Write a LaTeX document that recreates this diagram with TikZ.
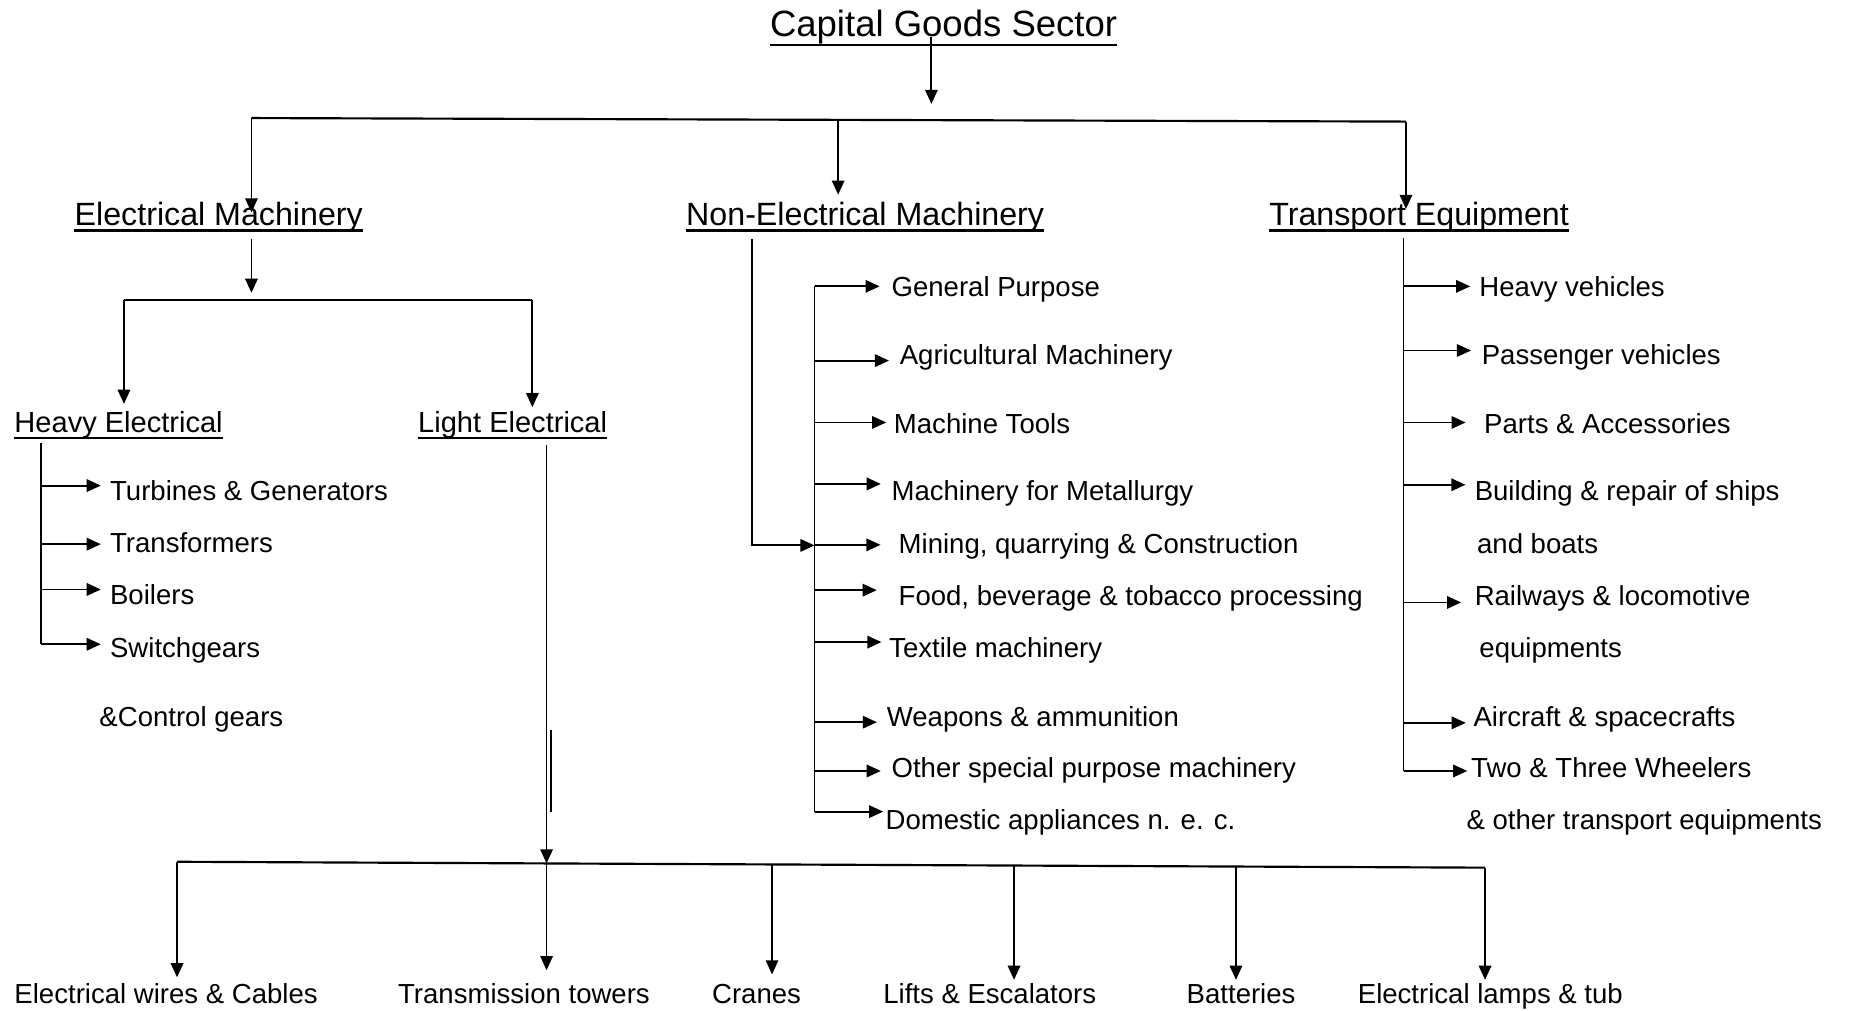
\documentclass[tikz,border=0pt]{standalone}
\usepackage{fontspec}
\setmainfont{Liberation Sans}
\usetikzlibrary{arrows.meta}
\newcommand\branch[4]{\draw[arr] ([yshift=#4]#1 |- #2.base) -- ([xshift=-#3,yshift=#4]#2.base west);}% Syntax: {spine}{item}{gap to text}{height above baseline}
\newcommand\uline[2]{\draw[bar] ([yshift=-#2]#1.base west) -- ([yshift=-#2]#1.base east);}% Syntax: {heading}{depth below baseline}

\begin{document}
\begin{tikzpicture}[x=0.025cm,y=-0.025cm,
	every node/.style={inner sep=0pt,anchor=base west},
	title/.style={font=\fontsize{22}{26}\selectfont},
	head/.style={font=\fontsize{19.4}{23}\selectfont},
	subhead/.style={font=\fontsize{17.5}{21}\selectfont},
	item/.style={font=\fontsize{16.6}{20}\selectfont},
	link/.style={line width=1pt},
	bar/.style={line width=1.3pt},
	arr/.style={line width=1.1pt,-{Triangle[length=8.5pt,width=7.5pt]}}]
	\useasboundingbox (0,0) rectangle (1568,856);

	%TITLE
	\node[title] (cgs) at (652,31) {Capital Goods Sector};
	\uline{cgs}{5pt}
	\coordinate (top) at (789,88);
	\draw[arr] (cgs.base -| top) -- (top);

	%TOP BAR
	\coordinate (tb1) at (213,100);
	\coordinate (tb2) at (710,101.5);
	\coordinate (tb3) at (1191,103);
	\draw[bar] (tb1) -- (tb3);

	%HEADINGS
	\node[head] (em) at (63,191)	{Electrical Machinery};
	\node[head] (nem) at (581,191)	{Non-Electrical Machinery};
	\node[head] (te) at (1075,191)	{Transport Equipment};
	\uline{em}{3pt}
	\uline{nem}{3pt}
	\uline{te}{3pt}
	\draw[arr] (tb1) -- ([yshift=-6.4pt]tb1 |- em.north);
	\draw[arr] (tb2) -- ([yshift=4.3pt]tb2 |- nem.north);
	\draw[arr] (tb3) -- ([yshift=-4.3pt]tb3 |- te.north);

	%ELECTRICAL MACHINERY
	\coordinate (eb0) at (213,248);
	\coordinate (eb1) at (105,254);
	\coordinate (eb2) at (451,254);
	\draw[arr] ([yshift=-8pt]em.base -| eb0) -- (eb0);
	\draw[link] (eb1) -- (eb2);
	\node[subhead] (he) at (12,366)	{Heavy Electrical};
	\node[subhead] (le) at (354,366)	{Light Electrical\ };
	\uline{he}{3.5pt}
	\uline{le}{3.5pt}
	\draw[arr] (eb1) -- ([yshift=17pt]eb1 |- he.base);
	\draw[arr] (eb2) -- ([yshift=15pt]eb2 |- le.base);

	%HEAVY ELECTRICAL
	\coordinate (hs) at (35,375);
	\node[item] (tg) at (93,424)	{Turbines \& Generators};
	\node[item] (tr) at (93,468)	{Transformers};
	\node[item] (bo) at (93,512)	{Boilers};
	\node[item] (sw) at (93,557)	{Switchgears};
	\node[item] (cg) at (84,615)	{\&Control gears};
	\draw[link] (hs) -- ([yshift=8pt]hs |- sw.base);
	\branch{hs}{tg}{5.4pt}{9pt}
	\branch{hs}{tr}{5.4pt}{5pt}
	\branch{hs}{bo}{5.4pt}{9pt}
	\branch{hs}{sw}{5.4pt}{8pt}

	%LIGHT ELECTRICAL
	\coordinate (bb1) at (150,730);
	\coordinate (bb2) at (463,731.4);
	\coordinate (bb3) at (654,732.3);
	\coordinate (bb4) at (859,733.2);
	\coordinate (bb5) at (1047,734);
	\coordinate (bb6) at (1258,735);
	\draw[arr] ([yshift=-8pt]le.base -| bb2) -- (bb2);
	\draw[line width=1.4pt] (467,618) -- (467,688);
	\draw[bar] (bb1) -- (bb6);
	\node[item] (wc) at (12,850)	{Electrical wires \& Cables};
	\node[item] (tt) at (337,850)	{Transmission towers};
	\node[item] (cr) at (603,850)	{Cranes};
	\node[item] (lf) at (748,850)	{Lifts \& Escalators};
	\node[item] (bt) at (1005,850)	{Batteries};
	\node[item] (lt) at (1150,850)	{Electrical lamps \& tub};
	\draw[arr] (bb1) -- ([yshift=3.5pt]bb1 |- wc.north);
	\draw[arr] (bb2) -- ([yshift=7.8pt]bb2 |- tt.north);
	\draw[arr] (bb3) -- ([yshift=5.7pt]bb3 |- cr.north);
	\draw[arr] (bb4) -- ([yshift=2pt]bb4 |- lf.north);
	\draw[arr] (bb5) -- ([yshift=2pt]bb5 |- bt.north);
	\draw[arr] (bb6) -- ([yshift=2pt]bb6 |- lt.north);

	%NON-ELECTRICAL MACHINERY
	\coordinate (ns) at (637,462);
	\coordinate (nsp) at (690,462);
	\node[item] (gp) at (755,251)	{General Purpose};
	\node[item] (am) at (762,309)	{Agricultural Machinery};
	\node[item] (mt) at (757,367)	{Machine Tools};
	\node[item] (mm) at (755,424)	{Machinery for Metallurgy};
	\node[item] (mq) at (761,469)	{Mining, quarrying \& Construction};
	\node[item] (fb) at (761,513)	{Food, beverage \& tobacco processing};
	\node[item] (tx) at (753,557)	{Textile machinery};
	\node[item] (wa) at (751,615)	{Weapons \& ammunition};
	\node[item] (os) at (755,659)	{Other special purpose machinery};
	\node[item] (da) at (750,703)	{Domestic appliances n. e. c.};
	\draw[arr] ([yshift=-8pt]nem.base -| ns) -- (ns) -- (nsp);
	\draw[link] ([yshift=6pt]nsp |- gp.base) -- ([yshift=11pt]nsp |- da.base);
	\branch{nsp}{gp}{7pt}{6pt}
	\branch{nsp}{am}{6.3pt}{2.5pt}
	\branch{nsp}{mt}{4.5pt}{6.5pt}
	\branch{nsp}{mm}{6.3pt}{10pt}
	\branch{nsp}{mq}{10.7pt}{5.3pt}
	\branch{nsp}{fb}{13pt}{9.3pt}
	\branch{nsp}{tx}{4.5pt}{9.3pt}
	\branch{nsp}{wa}{5.8pt}{2.3pt}
	\branch{nsp}{os}{6.3pt}{4.2pt}
	\branch{nsp}{da}{1.3pt}{11pt}

	%TRANSPORT EQUIPMENT
	\coordinate (tsp) at (1189,202);
	\node[item] (hv) at (1253,251)	{Heavy vehicles};
	\node[item] (pv) at (1255,309)	{Passenger vehicles};
	\node[item] (pa) at (1257,367)	{Parts \& Accessories};
	\node[item] (bs) at (1249,424)	{Building \& repair of ships};
	\node[item] (bs2) at (1251,469)	{and boats};
	\node[item] (rl) at (1249,513)	{Railways \& locomotive};
	\node[item] (rl2) at (1253,557)	{equipments};
	\node[item] (ac) at (1248,615)	{Aircraft \& spacecrafts};
	\node[item] (tw) at (1246,659)	{Two \& Three Wheelers};
	\node[item] (tw2) at (1242,703)	{\& other transport equipments};
	\draw[link] (tsp) -- ([yshift=4.2pt]tsp |- tw.base);
	\branch{tsp}{hv}{5.4pt}{6pt}
	\branch{tsp}{pv}{6.3pt}{8.6pt}
	\branch{tsp}{pa}{11pt}{6.5pt}
	\branch{tsp}{bs}{5.4pt}{9.5pt}
	\branch{tsp}{rl}{8pt}{1.9pt}
	\branch{tsp}{ac}{4.5pt}{1.9pt}
	\branch{tsp}{tw}{2.2pt}{4.2pt}
\end{tikzpicture}
\end{document}
